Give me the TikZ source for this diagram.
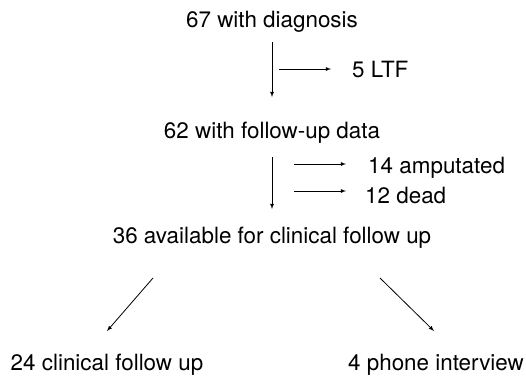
\documentclass[tikz,border=0pt]{standalone}
\usepackage{fontspec}
\setmainfont{TeX Gyre Heros}
\usepackage{tikz}
\usepackage{xcolor}

\begin{document}
\begin{tikzpicture}[x=1pt,y=-1pt]
	\tikzstyle{txt} = [inner sep=0pt, anchor=base, font=\fontsize{22.4}{26}\selectfont]
	\tikzstyle{flow} = [draw=black, line width=0.8pt, -latex]
	\useasboundingbox (0,0) rectangle (526,376);
		\node[txt] (diag) at (272,27) {67 with diagnosis};
		\node[txt, anchor=base west] (ltf) at (352,77) {5 LTF};
		\node[txt] (fud) at (272,138) {62 with follow-up data};
		\node[txt, anchor=base west] (amp) at (368,173) {14 amputated};
		\node[txt, anchor=base west] (dead) at (365,203) {12 dead};
		\node[txt] (avail) at (272,243) {36 available for clinical follow up};
		\node[txt] (clin) at (107,370) {24 clinical follow up};
		\node[txt] (phone) at (436,370) {4 phone interview};
		\coordinate (d1) at (272,42);
		\coordinate (d2) at (272,97);
		\coordinate (l1) at (279,69);
		\coordinate (l2) at (331,69);
		\coordinate (f1) at (272,157);
		\coordinate (f2) at (272,209);
		\coordinate (a1) at (294,164);
		\coordinate (a2) at (346,164);
		\coordinate (e1) at (294,191);
		\coordinate (e2) at (346,191);
		\coordinate (s1) at (153,278);
		\coordinate (s2) at (107,331);
		\coordinate (t1) at (380,278);
		\coordinate (t2) at (434,331);
	% first step
	\draw[flow] (d1) -- (d2);
	\draw[flow] (l1) -- (l2);
	% second step
	\draw[flow] (f1) -- (f2);
	\draw[flow] (a1) -- (a2);
	\draw[flow] (e1) -- (e2);
	% split
	\draw[flow] (s1) -- (s2);
	\draw[flow] (t1) -- (t2);
\end{tikzpicture}
\end{document}
